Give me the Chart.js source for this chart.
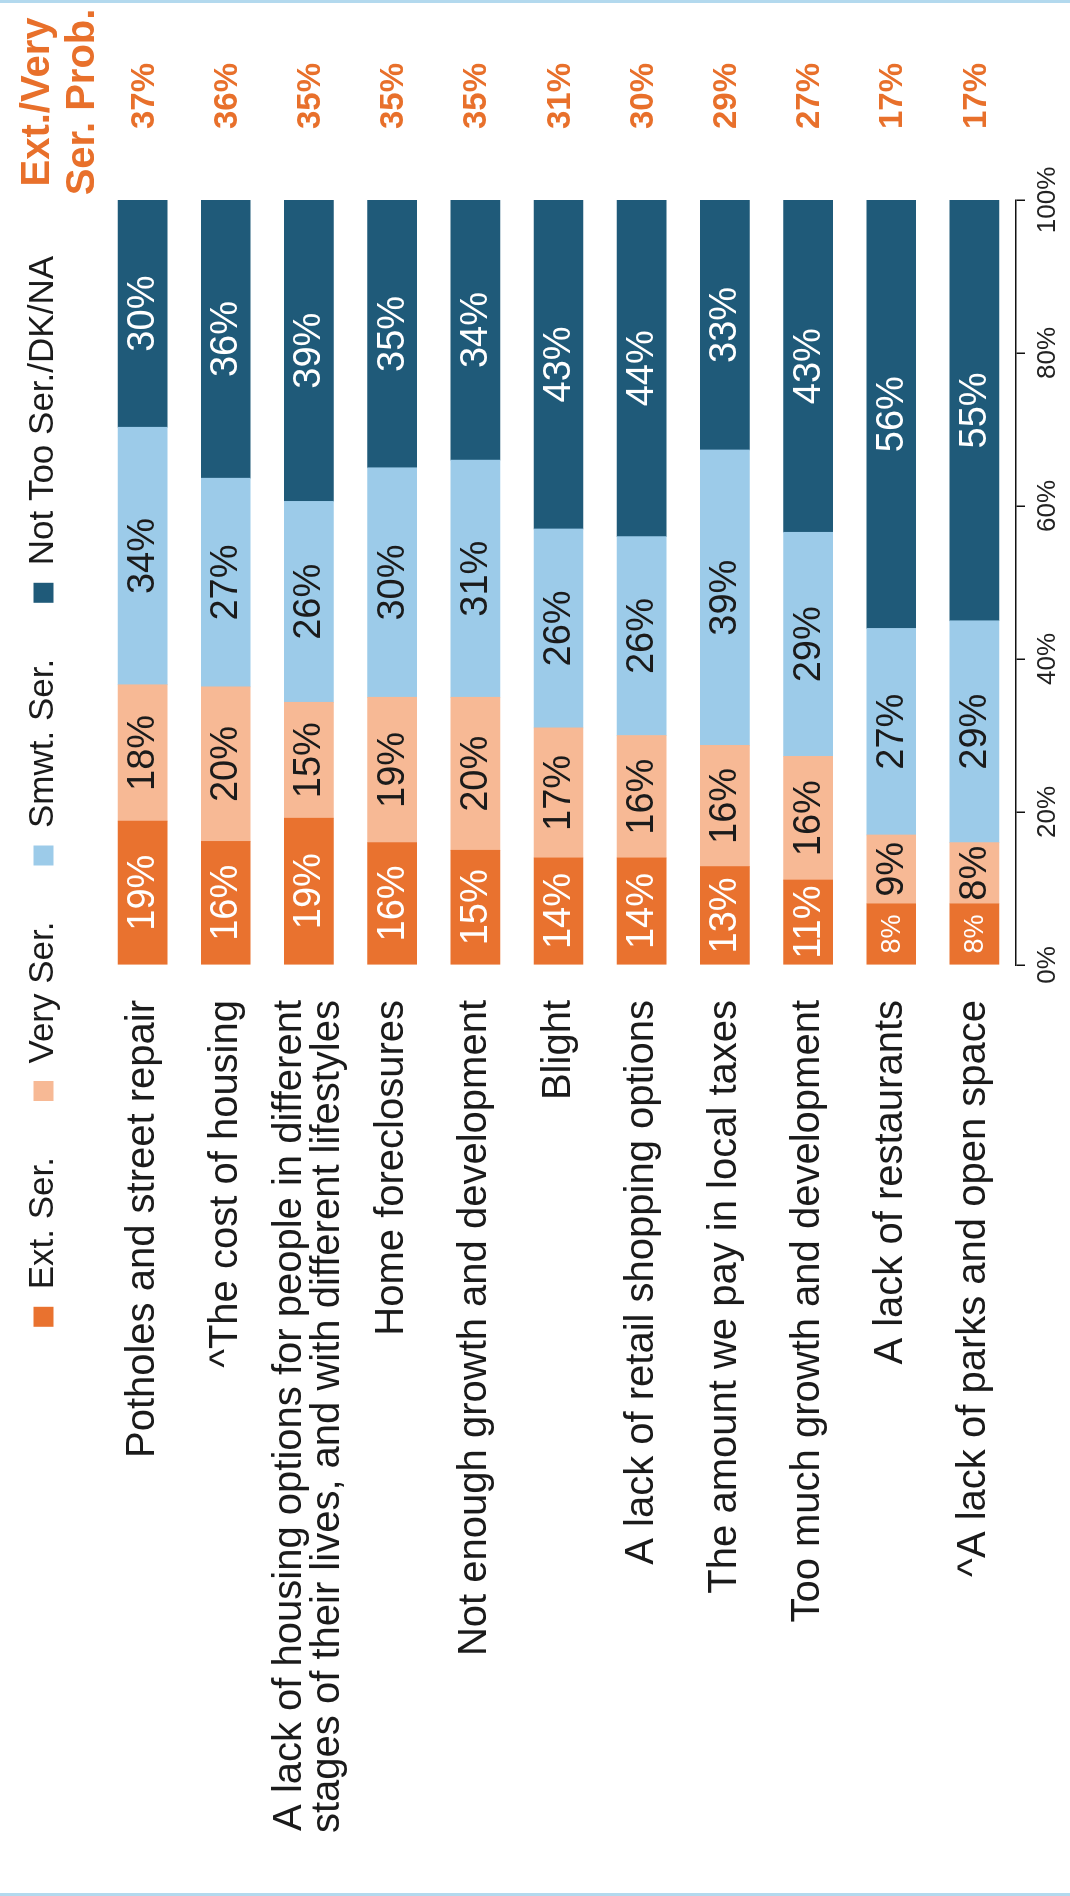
<!DOCTYPE html>
<html>
<head>
<meta charset="utf-8">
<script src="https://cdn.jsdelivr.net/npm/chart.js@4.4.1/dist/chart.umd.min.js"></script>
<style>
  html, body { margin: 0; padding: 0; background: #fff; }
  body { width: 1070px; height: 1896px; overflow: hidden; position: relative; }
  #wrap {
    position: absolute; left: 0; top: 0;
    width: 1896px; height: 1070px;
    transform-origin: 0 0;
    transform: translate(0px, 1896px) rotate(-90deg);
  }
  .edge { position: absolute; left: 0; width: 1070px; height: 3px; background: #b3d9ee; }
</style>
</head>
<body>
<div id="wrap"><canvas id="chart" width="1896" height="1070"></canvas></div>
<div class="edge" style="top:0"></div>
<div class="edge" style="top:1893px"></div>
<script>
const categories = [
  "Potholes and street repair",
  "^The cost of housing",
  ["A lack of housing options for people in different", "stages of their lives, and with different lifestyles"],
  "Home foreclosures",
  "Not enough growth and development",
  "Blight",
  "A lack of retail shopping options",
  "The amount we pay in local taxes",
  "Too much growth and development",
  "A lack of restaurants",
  "^A lack of parks and open space"
];
const seriesNames = ["Ext. Ser.", "Very Ser.", "Smwt. Ser.", "Not Too Ser./DK/NA"];
const extSer    = [19, 16, 19, 16, 15, 14, 14, 13, 11, 8, 8];
const verySer   = [18, 20, 15, 19, 20, 17, 16, 16, 16, 9, 8];
const smwtSer   = [34, 27, 26, 30, 31, 26, 26, 39, 29, 27, 29];
const notTooSer = [30, 36, 39, 35, 34, 43, 44, 33, 43, 56, 55];
const extVeryProb = [37, 36, 35, 35, 35, 31, 30, 29, 27, 17, 17];
const probHeader = ["Ext./Very", "Ser. Prob."];
const valueTicks = [0, 20, 40, 60, 80, 100];

const seriesColors = ["#e9722f", "#f7b995", "#9ccbe9", "#1f5a79"];
const labelColors = ["#ffffff", "#1b1b1b", "#1b1b1b", "#ffffff"];
const orange = "#e8702b";
const FONT = "'Liberation Sans', Arial, sans-serif";
Chart.defaults.font.family = FONT;

// bars are drawn as share of the row total so every bar reaches 100%
const raw = [extSer, verySer, smwtSer, notTooSer];
const totals = extSer.map((v, i) => raw.reduce((s, arr) => s + arr[i], 0));
const share = arr => arr.map((v, i) => v / totals[i] * 100);

// percentage text centred inside each segment
const segmentLabels = {
  id: "segmentLabels",
  afterDatasetsDraw(chart) {
    const ctx = chart.ctx;
    ctx.save();
    ctx.textAlign = "center";
    ctx.textBaseline = "middle";
    chart.data.datasets.forEach((ds, d) => {
      chart.getDatasetMeta(d).data.forEach((bar, i) => {
        const v = raw[d][i];
        const size = (d === 0 && v < 10) ? 27 : 38;
        ctx.font = size + "px " + FONT;
        ctx.fillStyle = labelColors[d];
        ctx.fillText(v + "%", (bar.x + bar.base) / 2, bar.y + 1);
      });
    });
    ctx.restore();
  }
};

// "Ext./Very Ser. Prob." column on the right
const probColumn = {
  id: "probColumn",
  afterDraw(chart) {
    const ctx = chart.ctx;
    const yScale = chart.scales.y;
    const cx = chart.chartArea.right + 104;
    ctx.save();
    ctx.fillStyle = orange;
    ctx.textAlign = "center";
    ctx.textBaseline = "middle";
    ctx.font = "bold 40px " + FONT;
    probHeader.forEach((t, k) => ctx.fillText(t, cx - 6, 38 + k * 45));
    ctx.font = "bold 33px " + FONT;
    extVeryProb.forEach((v, i) => ctx.fillText(v + "%", cx, yScale.getPixelForValue(i) + 2));
    ctx.restore();
  }
};

// pull the legend row up towards the edge
const legendShift = {
  id: "legendShift",
  afterLayout(chart) {
    if (chart.legend) {
      chart.legend.top -= 30;
      chart.legend.bottom -= 30;
    }
  }
};

new Chart(document.getElementById("chart"), {
  type: "bar",
  data: {
    labels: categories,
    datasets: seriesNames.map((name, d) => ({
      label: name,
      data: share(raw[d]),
      backgroundColor: seriesColors[d],
      borderWidth: 0,
      barThickness: 49
    }))
  },
  options: {
    indexAxis: "y",
    responsive: false,
    animation: false,
    layout: { padding: { left: 0, right: 200, top: 0, bottom: 0 } },
    plugins: {
      legend: {
        position: "top",
        align: "end",
        labels: {
          color: "#1b1b1b",
          font: { size: 35 },
          boxWidth: 20,
          boxHeight: 20,
          padding: 56
        }
      },
      tooltip: { enabled: false }
    },
    scales: {
      x: {
        stacked: true,
        min: 0,
        max: 100,
        afterBuildTicks: s => { s.ticks = valueTicks.map(v => ({ value: v })); },
        afterFit: s => { s.height = 45; },
        ticks: {
          color: "#222",
          font: { size: 26 },
          padding: 7,
          callback: v => v + "%"
        },
        grid: { drawOnChartArea: false, drawTicks: true, tickLength: 9, color: "#111", lineWidth: 1.5 },
        border: { display: true, color: "#111", width: 1.5 }
      },
      y: {
        stacked: true,
        afterFit: s => { s.width = 931; },
        ticks: {
          color: "#1b1b1b",
          font: { size: 40, lineHeight: 0.95 },
          padding: 35,
          autoSkip: false
        },
        grid: { display: false, drawTicks: false },
        border: { display: false }
      }
    }
  },
  plugins: [segmentLabels, probColumn, legendShift]
});
</script>
</body>
</html>
